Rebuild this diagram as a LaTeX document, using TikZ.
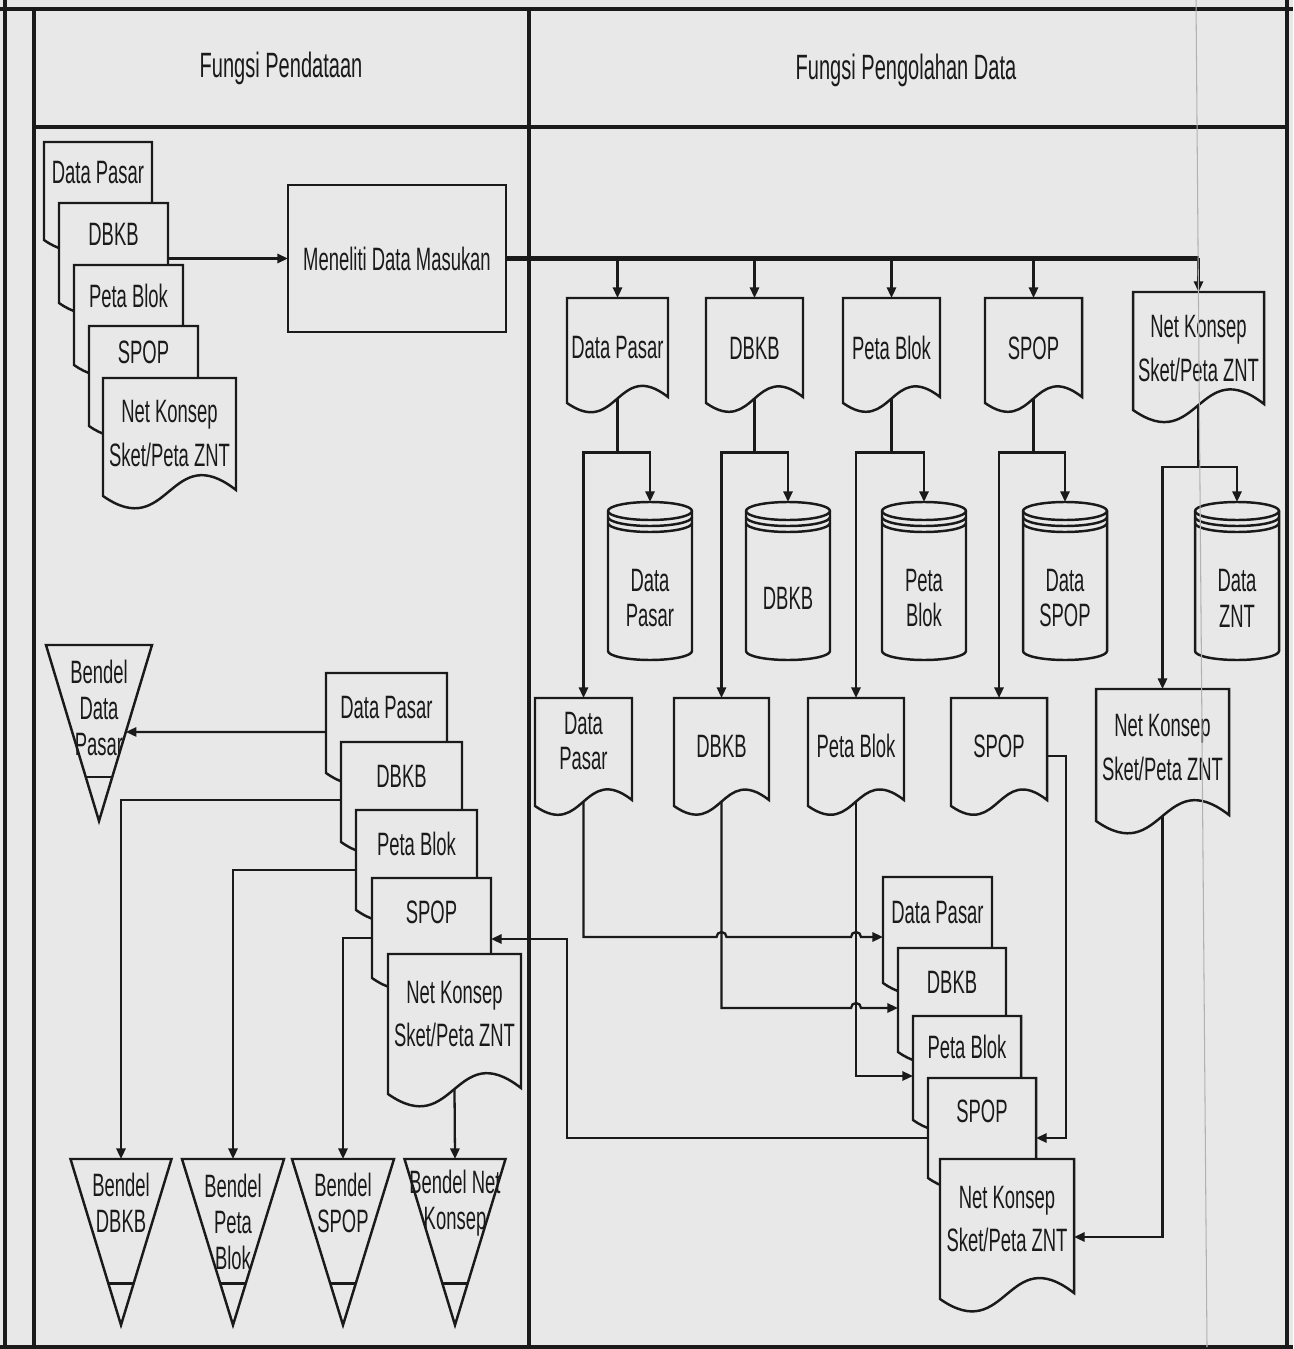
\documentclass[tikz,border=0pt]{standalone}
\usepackage{fontspec}
\setmainfont{Liberation Sans}[FakeStretch=0.57]
\usetikzlibrary{arrows.meta,calc,positioning}
\definecolor{ink}{HTML}{1A1A1A}
\definecolor{paper}{HTML}{E8E8E8}
\newcommand{\lblfont}{\fontsize{9.2}{10.2}\selectfont}
\tikzset{
  frame/.style={draw=ink, line width=1pt},
  docline/.style={draw=ink, fill=paper, line width=0.7pt},
  doctext/.style={font=\lblfont, text=ink, align=center, inner sep=0pt, outer sep=0pt},
  procbox/.style={docline, doctext, minimum width=2.18cm, minimum height=1.47cm},
  flow/.style={draw=ink, line width=0.65pt, -{Triangle[length=3pt,width=2.6pt]}},
  bus/.style={draw=ink, line width=1.2pt},
  lanetitle/.style={font=\fontsize{10}{12}\selectfont, text=ink}
}
% document symbol: name, left, top, width, height, text height, text
\newcommand{\docshape}[7]{%
  \filldraw[docline] (#2,-#3) -- ++(#4,0) -- ++(0,{6-#5})
    .. controls +({-0.5*#4},{0.39*#4}) and +({0.5*#4},{-0.35*#4}) .. (#2,{-#3-#5}) -- cycle;
  \node[doctext, minimum width={#4*0.01cm}, minimum height={#6*0.01cm}, anchor=north west] (#1) at (#2,-#3) {#7};
  \coordinate (#1-b) at ({#2+#4/2},{-#3-#5+0.015*#4+3});
}
% disk store: name, centre x, top, text
\newcommand{\diskshape}[4]{%
  \filldraw[docline] (#2-42,{-#3-9}) -- (#2-42,{-#3-149})
    arc[start angle=180, end angle=360, x radius=42, y radius=9] -- (#2+42,{-#3-9})
    arc[start angle=0, end angle=180, x radius=42, y radius=9] -- cycle;
  \foreach \k in {0,6,12}
    \draw[docline, fill=none] (#2-42,{-#3-9-\k}) arc[start angle=180, end angle=360, x radius=42, y radius=9];
  \node[doctext, minimum height=1.92cm] (#1) at (#2,{-#3-96}) {#4};
}
% file (bendel): name, centre x, top, width, height, text offset, text
\newcommand{\bendel}[7]{%
  \filldraw[docline] ({#2-#4/2},-#3) -- ({#2+#4/2},-#3) -- (#2,{-#3-#5}) -- cycle;
  \draw[docline] ({#2-#4/8},{-#3-0.75*#5}) -- ({#2+#4/8},{-#3-0.75*#5});
  \coordinate (#1-r) at ({#2+#4/2},-#3);
  \coordinate (#1-a) at (#2,{-#3-#5});
  \node[doctext, minimum height={2*#6*0.01cm}] (#1) at (#2,{-#3-#6}) {#7};
}

\begin{document}
\begin{tikzpicture}[x=0.01cm, y=0.01cm]
\fill[paper] (0,0) rectangle (1293,-1349);
\useasboundingbox (0,0) rectangle (1293,-1349);

% lanes
\draw[frame] (5,0) -- (5,-1349);
\draw[frame] (0,-9) -- (1293,-9);
\draw[frame] (34,-9) -- (34,-1349);
\draw[frame] (529,-9) -- (529,-1349);
\draw[frame] (1287,0) -- (1287,-1349);
\draw[frame] (34,-127) -- (1287,-127);
\draw[frame] (0,-1347) -- (1293,-1347);
\node[lanetitle] (hdl) at (281,-68) {Fungsi Pendataan};
\node[lanetitle] (hdr) at (906,-70) {Fungsi Pengolahan Data};

% input documents
\docshape{i1}{44}{142}{108}{98}{61}{Data Pasar}
\docshape{i2}{59}{203}{109}{100}{62}{DBKB}
\docshape{i3}{74}{265}{109}{100}{61}{Peta Blok}
\docshape{i4}{89}{326}{109}{100}{52}{SPOP}
\docshape{i5}{103}{378}{133}{118}{112}{Net Konsep\\[2.3pt]Sket/Peta ZNT}

\node[procbox] (teliti) at (397,-258.5) {Meneliti Data Masukan};

% first copies
\docshape{r1a}{567}{298}{101}{105}{100}{Data Pasar}
\docshape{r1b}{706}{298}{97}{105}{100}{DBKB}
\docshape{r1c}{843}{298}{97}{105}{100}{Peta Blok}
\docshape{r1d}{985}{298}{97}{105}{100}{SPOP}
\docshape{r1e}{1133}{292}{131}{118}{113}{Net Konsep\\[2.3pt]Sket/Peta ZNT}

% stores
\diskshape{c1}{650}{502}{Data\\Pasar}
\diskshape{c2}{788}{502}{DBKB}
\diskshape{c3}{924}{502}{Peta\\Blok}
\diskshape{c4}{1065}{502}{Data\\SPOP}
\diskshape{c5}{1237}{502}{Data\\ZNT}

% second copies
\docshape{r2a}{535}{698}{97}{108}{86}{Data\\Pasar}
\docshape{r2b}{674}{698}{95}{108}{96}{DBKB}
\docshape{r2c}{808}{698}{96}{108}{96}{Peta Blok}
\docshape{r2d}{951}{698}{96}{108}{96}{SPOP}
\docshape{r2e}{1096}{689}{133}{132}{118}{Net Konsep\\[2.3pt]Sket/Peta ZNT}

% returned documents
\docshape{o1}{883}{877}{109}{106}{71}{Data Pasar}
\docshape{o2}{898}{948}{108}{104}{68}{DBKB}
\docshape{o3}{913}{1016}{108}{104}{62}{Peta Blok}
\docshape{o4}{928}{1078}{108}{100}{66}{SPOP}
\docshape{o5}{940}{1159}{134}{140}{120}{Net Konsep\\[2.3pt]Sket/Peta ZNT}

\docshape{l1}{326}{673}{121}{100}{69}{Data Pasar}
\docshape{l2}{341}{742}{121}{100}{68}{DBKB}
\docshape{l3}{356}{810}{121}{100}{68}{Peta Blok}
\docshape{l4}{372}{878}{119}{100}{68}{SPOP}
\docshape{l5}{388}{954}{133}{140}{120}{Net Konsep\\[2.3pt]Sket/Peta ZNT}

% files
\bendel{b1}{99}{645}{106}{176}{63}{Bendel\\Data\\Pasar}
\bendel{b2}{121}{1159}{101}{166}{44}{Bendel\\DBKB}
\bendel{b3}{233}{1159}{102}{166}{63}{Bendel\\Peta\\Blok}
\bendel{b4}{343}{1159}{102}{166}{44}{Bendel\\SPOP}
\bendel{b5}{455}{1159}{101}{166}{44}{Bendel Net\\Konsep}

% connectors
\draw[flow] (i2.east |- teliti.west) -- (teliti.west);
\draw[bus] (teliti.east) -- (r1e.north |- teliti.east);
\foreach \dn in {r1a,r1b,r1c,r1d,r1e}
  \draw[flow] (\dn.north |- teliti.east) -- (\dn.north);

\foreach \src/\dsk/\cpy in {r1a/c1/r2a, r1b/c2/r2b, r1c/c3/r2c, r1d/c4/r2d} {
  \draw[flow] (\src-b) -- ++(0,-54) coordinate (\src-j) -| (\dsk.north);
  \draw[flow] (\src-j) -| (\cpy.north);
}
\draw[flow] (r1e-b) -- ++(0,-62) coordinate (r1e-j) -| (c5.north);
\draw[flow] (r1e-j) -| (r2e.north);

\coordinate (o1in) at ($(o1.north west)+(0,-60)$);
\coordinate (o2in) at ($(o2.north west)+(0,-60)$);
\coordinate (o3in) at ($(o3.north west)+(0,-60)$);
\coordinate (o4in) at ($(o4.north east)+(0,-60)$);
\coordinate (o4out) at ($(o4.north west)+(0,-60)$);
\coordinate (o5in) at ($(o5.north east)+(0,-78)$);
\draw[flow] (r2a-b) |- ($(r2b-b |- o1in)+(-5,0)$) arc[start angle=180, end angle=0, radius=5]
  -- ($(r2c-b |- o1in)+(-5,0)$) arc[start angle=180, end angle=0, radius=5] -- (o1in);
\draw[flow] (r2b-b) |- ($(r2c-b |- o2in)+(-5,0)$) arc[start angle=180, end angle=0, radius=5] -- (o2in);
\draw[flow] (r2c-b) |- (o3in);
\draw[flow] ($(r2d.north east)+(0,-58)$) -- ++(19,0) |- (o4in);
\draw[flow] (r2e-b) |- (o5in);

\coordinate (l4in) at ($(l4.north east)+(0,-61)$);
\draw[flow] (o4out) -- ++(-361,0) |- (l4in);

\coordinate (l1out) at ($(l1.north west)+(0,-59)$);
\coordinate (l2out) at ($(l2.north west)+(0,-58)$);
\coordinate (l3out) at ($(l3.north west)+(0,-60)$);
\coordinate (l4out) at ($(l4.north west)+(0,-60)$);
\draw[flow] (l1out) -- ($(b1-r)!0.494!(b1-a)$);
\draw[flow] (l2out) -| (b2.north);
\draw[flow] (l3out) -| (b3.north);
\draw[flow] (l4out) -| (b4.north);
\draw[flow] (l5-b) -- (b5.north);

% scan fold
\draw[gray!60, line width=0.3pt] (1196,0) -- (1207,-1347);
\end{tikzpicture}
\end{document}
